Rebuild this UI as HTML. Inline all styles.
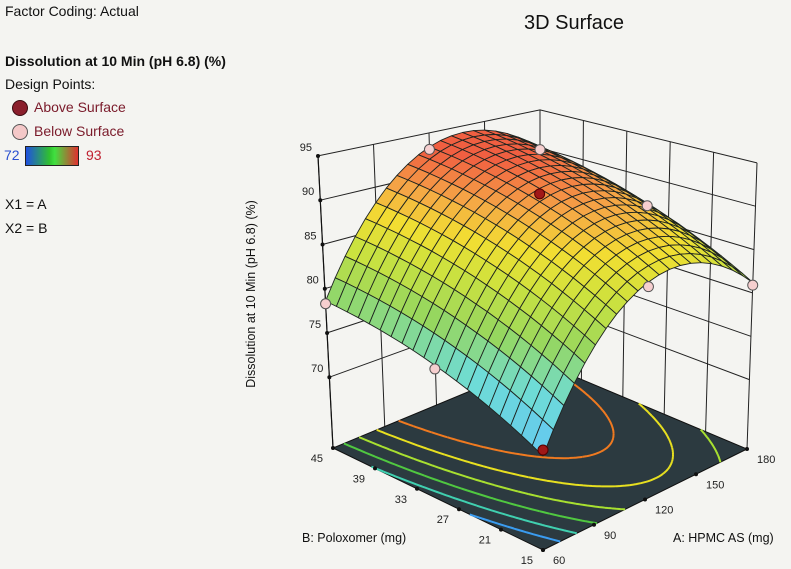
<!DOCTYPE html>
<html><head><meta charset="utf-8">
<style>
html,body{margin:0;padding:0;background:#f4f4f1;}
body{width:791px;height:569px;position:relative;overflow:hidden;font-family:"Liberation Sans",sans-serif;color:#111;}
.t{position:absolute;white-space:nowrap;font-size:14px;}
</style></head><body>
<div class="t" style="left:5px;top:3px;">Factor Coding: Actual</div>
<div class="t" style="left:5px;top:53px;font-weight:bold;">Dissolution at 10 Min (pH 6.8) (%)</div>
<div class="t" style="left:5px;top:76px;">Design Points:</div>
<div style="position:absolute;left:12px;top:100px;width:14px;height:14px;border-radius:50%;background:#8a1f2c;border:1px solid #3a0a10;"></div>
<div class="t" style="left:34px;top:99px;color:#7a1a2a;">Above Surface</div>
<div style="position:absolute;left:12px;top:124px;width:14px;height:14px;border-radius:50%;background:#f4c8c8;border:1px solid #555;"></div>
<div class="t" style="left:34px;top:123px;color:#7a1a2a;">Below Surface</div>
<div class="t" style="left:4px;top:147px;color:#2a50d0;">72</div>
<div style="position:absolute;left:25px;top:146px;width:52px;height:18px;border:1px solid #222;background:linear-gradient(90deg,#2050e0,#30c030 45%,#40e040 55%,#e03030);"></div>
<div class="t" style="left:86px;top:147px;color:#c02030;">93</div>
<div class="t" style="left:5px;top:196px;">X1 = A</div>
<div class="t" style="left:5px;top:220px;">X2 = B</div>
<div class="t" style="left:524px;top:12px;font-size:20px;">3D Surface</div>

<svg id="chart" width="791" height="569" style="position:absolute;left:0;top:0;" xmlns="http://www.w3.org/2000/svg"></svg>

<script>
// ---- data ----
const coef = [90.5, 5.3, 4.0, -9.0, -1.2, 0.4]; // b0, A, B, A^2, B^2, AB (coded)
const designA = [60, 60, 60, 120, 120, 120, 180, 180, 180];
const designB = [15, 30, 45, 15, 30, 45, 15, 30, 45];
const designZ = [72, 75.8, 78.3, 84.8, 91.4, 93.0, 80.9, 86.5, 89.8];
const aTicks = [60, 90, 120, 150, 180];
const bTicks = [15, 21, 27, 33, 39, 45];
const zTicks = [70, 75, 80, 85, 90, 95];
const contourLevels = [75, 78, 81, 84, 87, 90];

// ---- axes / projection ----
const aMin = 60, aMax = 180, bMin = 15, bMax = 45, zFloor = 62, zTop = 95;
const F = {p00:[543,550], p10:[747,449], p01:[333,448], p11:[540,362]};
const S = {p00:10.0, p10:8.67, p01:8.85, p11:7.64};
const DX = {p00:0, p10:10/33, p01:-15/33, p11:0};
function bil(u,v,k){ return (1-u)*(1-v)*k.p00 + u*(1-v)*k.p10 + (1-u)*v*k.p01 + u*v*k.p11; }
function proj(u,v,z){
  const x = (1-u)*(1-v)*F.p00[0]+u*(1-v)*F.p10[0]+(1-u)*v*F.p01[0]+u*v*F.p11[0];
  const y = (1-u)*(1-v)*F.p00[1]+u*(1-v)*F.p10[1]+(1-u)*v*F.p01[1]+u*v*F.p11[1];
  const dz = z - zFloor;
  return [x + dz*bil(u,v,DX), y - dz*bil(u,v,S)];
}
const uA = a => (a-aMin)/(aMax-aMin);
const vB = b => (b-bMin)/(bMax-bMin);
function model(u,v){ const x1=2*u-1, x2=2*v-1;
  return coef[0]+coef[1]*x1+coef[2]*x2+coef[3]*x1*x1+coef[4]*x2*x2+coef[5]*x1*x2; }

const surfStops = [[72,[100,200,240]],[76,[110,220,215]],[80,[150,215,95]],[84,[205,226,62]],[87,[242,222,50]],[90,[245,165,70]],[93,[240,95,65]]];
function col(z){
  if(z<=surfStops[0][0]) return surfStops[0][1];
  for(let i=1;i<surfStops.length;i++){ if(z<=surfStops[i][0]){
    const [z0,c0]=surfStops[i-1],[z1,c1]=surfStops[i]; const t=(z-z0)/(z1-z0);
    return c0.map((c,j)=>Math.round(c+(c1[j]-c)*t)); } }
  return surfStops[surfStops.length-1][1];
}
const contourColors = ['#3a9cf0','#40d0b0','#50c840','#a8e030','#e8e020','#f07a20'];

const svg = document.getElementById('chart');
const NS = 'http://www.w3.org/2000/svg';
function el(tag, attrs, parent){ const e=document.createElementNS(NS,tag); for(const k in attrs) e.setAttribute(k,attrs[k]); (parent||svg).appendChild(e); return e; }
const pts = a => a.map(p=>p[0].toFixed(1)+','+p[1].toFixed(1)).join(' ');

// walls
const walls = el('g',{});


zTicks.forEach(z=>{
  const l = el('polyline',{points:pts([proj(0,1,z),proj(1,1,z),proj(1,0,z)]),fill:'none',stroke:'#222','stroke-width':1},walls);
  
  
});
aTicks.forEach(a=>{ const u=uA(a);
  const l = el('line',{x1:proj(u,1,zFloor)[0],y1:proj(u,1,zFloor)[1],x2:proj(u,1,zTop)[0],y2:proj(u,1,zTop)[1],stroke:'#222','stroke-width':1},walls);
  
  
});
bTicks.forEach(b=>{ const v=vB(b);
  const l = el('line',{x1:proj(1,v,zFloor)[0],y1:proj(1,v,zFloor)[1],x2:proj(1,v,zTop)[0],y2:proj(1,v,zTop)[1],stroke:'#222','stroke-width':1},walls);
  
  
});

// floor
const floor = el('polygon',{points:pts([proj(0,0,zFloor),proj(1,0,zFloor),proj(1,1,zFloor),proj(0,1,zFloor)]),fill:'#2c3a40',stroke:'#111','stroke-width':1});



// contours (marching squares)
const N=80;
const cg = el('g',{});


contourLevels.forEach((lv,li)=>{
  let d='';
  for(let i=0;i<N;i++)for(let j=0;j<N;j++){
    const u0=i/N,u1=(i+1)/N,v0=j/N,v1=(j+1)/N;
    const c=[[u0,v0],[u1,v0],[u1,v1],[u0,v1]];
    const z=c.map(p=>model(p[0],p[1]));
    const cr=[];
    for(let k=0;k<4;k++){ const k2=(k+1)%4;
      if((z[k]-lv)*(z[k2]-lv)<0){ const t=(lv-z[k])/(z[k2]-z[k]);
        cr.push([c[k][0]+(c[k2][0]-c[k][0])*t, c[k][1]+(c[k2][1]-c[k][1])*t]); } }
    for(let k=0;k+1<cr.length;k+=2){ const p=proj(cr[k][0],cr[k][1],zFloor), q=proj(cr[k+1][0],cr[k+1][1],zFloor);
      d+='M'+p[0].toFixed(1)+' '+p[1].toFixed(1)+'L'+q[0].toFixed(1)+' '+q[1].toFixed(1); }
  }
  const p = el('path',{d:d,stroke:contourColors[li],'stroke-width':2,fill:'none'},cg);
  
  
});

// axes ticks and labels
const ax = el('g',{});


el('line',{x1:proj(0,1,zFloor)[0],y1:proj(0,1,zFloor)[1],x2:proj(0,1,zTop)[0],y2:proj(0,1,zTop)[1],stroke:'#111','stroke-width':1.2},ax);
zTicks.forEach(z=>{ const p=proj(0,1,z);
  el('circle',{cx:p[0],cy:p[1],r:2,fill:'#111'},ax);
  const t=el('text',{x:p[0]-6,y:p[1]-5,'font-size':11,'text-anchor':'end',fill:'#222'},ax); t.textContent=z;
   
});
aTicks.forEach(a=>{ const p=proj(uA(a),0,zFloor);
  el('circle',{cx:p[0],cy:p[1],r:2,fill:'#111'},ax);
  const t=el('text',{x:p[0]+10,y:p[1]+14,'font-size':11,'text-anchor':'start',fill:'#222'},ax); t.textContent=a;
   
});
bTicks.forEach(b=>{ const p=proj(0,vB(b),zFloor);
  el('circle',{cx:p[0],cy:p[1],r:2,fill:'#111'},ax);
  const t=el('text',{x:p[0]-10,y:p[1]+14,'font-size':11,'text-anchor':'end',fill:'#222'},ax); t.textContent=b;
   
});
const ta=el('text',{x:673,y:542,'font-size':12.5,fill:'#111'},ax); ta.textContent='A: HPMC AS (mg)';
 
const tb=el('text',{x:302,y:542,'font-size':12.5,fill:'#111'},ax); tb.textContent='B: Poloxomer (mg)';
 
const tz=el('text',{x:0,y:0,'font-size':12.5,fill:'#111','text-anchor':'middle',transform:'translate(255,294) rotate(-90)'},ax); tz.textContent='Dissolution at 10 Min (pH 6.8) (%)';
 

// surface
const M=20;
const quads=[];
for(let i=0;i<M;i++)for(let j=0;j<M;j++){
  const u0=i/M,u1=(i+1)/M,v0=j/M,v1=(j+1)/M;
  const zs=[model(u0,v0),model(u1,v0),model(u1,v1),model(u0,v1)];
  quads.push({d:u0+u1+v0+v1, p:[proj(u0,v0,zs[0]),proj(u1,v0,zs[1]),proj(u1,v1,zs[2]),proj(u0,v1,zs[3])], z:(zs[0]+zs[1]+zs[2]+zs[3])/4});
}
quads.sort((a,b)=>b.d-a.d);
const sg = el('g',{});


quads.forEach(q=>{ const c=col(q.z);
  const p=el('polygon',{points:pts(q.p),fill:'rgb('+c.join(',')+')',stroke:'#1e2420','stroke-width':0.9,'stroke-linejoin':'round'},sg);
  
  
});

// design points
const dg = el('g',{});


designA.forEach((a,k)=>{
  const u=uA(a), v=vB(designB[k]); const p=proj(u,v,designZ[k]);
  const above = designZ[k] > model(u,v);
  const c=el('circle',{cx:p[0],cy:p[1],r:5,fill:above?'#a01818':'#f6cfcf',stroke:above?'#500':'#555','stroke-width':1},dg);
  
  
});
</script>
</body></html>
